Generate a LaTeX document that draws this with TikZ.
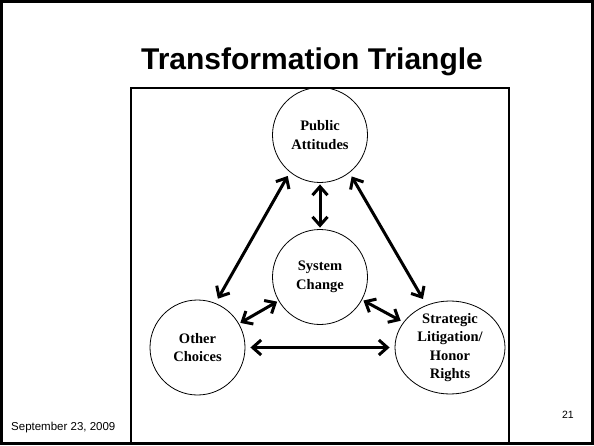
\documentclass[tikz,border=0pt]{standalone}
\usepackage{fontspec}
\setmainfont{Liberation Serif}
\setsansfont{Liberation Sans}
\usetikzlibrary{shapes.geometric,arrows.meta}
\tikzset{
  bubble/.style={circle,draw,line width=0.8pt,minimum size=95pt,inner sep=0pt,align=center,
    font=\fontsize{14.5}{18.5}\selectfont\bfseries},
  oval/.style={ellipse,draw,line width=0.8pt,minimum width=110pt,minimum height=93pt,inner sep=-2pt,align=center,
    font=\fontsize{14.5}{18.5}\selectfont\bfseries},
  arr/.style={line width=3pt,{Straight Barb[length=8.5pt,width=15pt]}-{Straight Barb[length=8.5pt,width=15pt]}},
}
\begin{document}
\begin{tikzpicture}[x=1pt,y=1pt]
\useasboundingbox (0,0) rectangle (594,445);
\fill[white] (0,0) rectangle (594,445);
\draw[line width=3pt] (1.5,1.5) rectangle (592.5,443.5);
\draw[line width=1.1pt] (131,2) rectangle (509,357);
\node[anchor=base,font=\sffamily\bfseries\fontsize{30}{36}\selectfont] (title) at (312,375) {Transformation Triangle};
\node[anchor=base west,inner sep=0pt,font=\sffamily\fontsize{11.5}{14}\selectfont] (date) at (11,15) {September 23, 2009};
\node[anchor=base east,inner sep=0pt,font=\sffamily\fontsize{10.5}{13}\selectfont] (num) at (574,27) {21};
\node[bubble] (pa) at (320,310) {Public\\Attitudes};
\node[bubble] (sc) at (320,168) {System\\Change};
\node[bubble] (oc) at (197.5,97.5) {Other\\Choices};
\node[oval] (sl) at (450,97.5) {Strategic\\Litigation/\\Honor\\Rights};
\draw[arr,shorten <=1.5pt,shorten >=1.5pt] (pa) -- (sc);
\draw[arr,shorten <=4.3pt,shorten >=5pt] (pa.231.6) -- (oc.68.5);
\draw[arr,shorten <=4.3pt,shorten >=7pt] (pa.308.4) -- (sl.119.3);
\draw[arr,shorten <=1.5pt,shorten >=1.5pt] (oc) -- (sc);
\draw[arr,shorten <=1.5pt,shorten >=3pt] (sc) -- (sl);
\draw[arr,shorten <=5pt,shorten >=5pt] (oc) -- (sl);
\end{tikzpicture}
\end{document}
